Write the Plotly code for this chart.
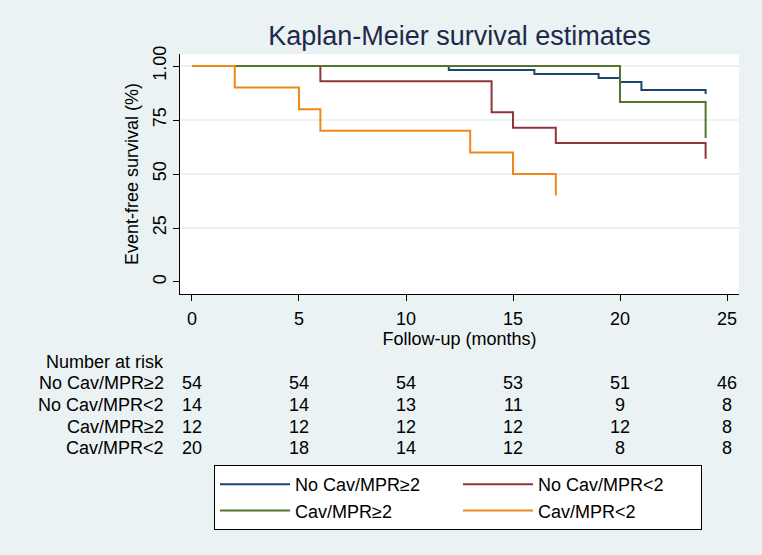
import plotly.graph_objects as go

# ---- data ----
group_names = ["No Cav/MPR\u22652", "No Cav/MPR<2", "Cav/MPR\u22652", "Cav/MPR<2"]

# step-function event times and survival after each step (start at t=0, S=1)
blue_t = [0, 12, 16, 19, 20, 21, 24]
blue_s = [1.0, 0.981, 0.963, 0.944, 0.926, 0.889, 0.870]

red_t = [0, 6, 14, 15, 17, 24]
red_s = [1.0, 0.929, 0.786, 0.714, 0.643, 0.571]

green_t = [0, 20, 24]
green_s = [1.0, 0.833, 0.667]

orange_t = [0, 2, 5, 6, 13, 15, 17]
orange_s = [1.0, 0.9, 0.8, 0.7, 0.6, 0.5, 0.4]

# end of follow-up per group
blue_end = 24
red_end = 24
green_end = 24
orange_end = 17

risk_times = [0, 5, 10, 15, 20, 25]
risk_blue = [54, 54, 54, 53, 51, 46]
risk_red = [14, 14, 13, 11, 9, 8]
risk_green = [12, 12, 12, 12, 12, 8]
risk_orange = [20, 18, 14, 12, 8, 8]

y_tickvals = [0, 0.25, 0.5, 0.75, 1.0]
y_ticktext = ["0", "25", "50", "75", "1.00"]
x_tickvals = [0, 5, 10, 15, 20, 25]

colors = ["#1a476f", "#90353b", "#55752f", "#f0871a"]

# ---- layout geometry ----
W, H = 762, 555
ML, MR, MT, MB = 180, 23, 54, 261
PW, PH = W - ML - MR, H - MT - MB


def px_to_paper_y(py):
    return (H - MB - py) / PH


def px_to_paper_x(px):
    return (px - ML) / PW


FONT = "Liberation Sans, Arial, sans-serif"
fig = go.Figure()

series = [
    (blue_t, blue_s, blue_end),
    (red_t, red_s, red_end),
    (green_t, green_s, green_end),
    (orange_t, orange_s, orange_end),
]
for (t, s, end), name, col in zip(series, group_names, colors):
    xs = list(t) + [end]
    ys = list(s) + [s[-1]]
    fig.add_trace(go.Scatter(
        x=xs, y=ys, mode="lines", name=name,
        line=dict(color=col, width=2, shape="hv"),
        hoverinfo="skip",
    ))

# gridlines (Stata style: no line at 0)
for v in y_tickvals[1:]:
    fig.add_shape(type="line", xref="paper", x0=0, x1=1, yref="y", y0=v, y1=v,
                  line=dict(color="#e4eef1", width=1.5), layer="below")

# risk table
ann = []
ann.append(dict(text="Number at risk", xref="paper", yref="paper",
                x=px_to_paper_x(166), y=px_to_paper_y(362),
                xanchor="right", yanchor="middle", showarrow=False,
                font=dict(size=18, color="black", family=FONT)))
row_px = [383, 405, 427, 448]
for name, counts, rp in zip(group_names,
                            [risk_blue, risk_red, risk_green, risk_orange], row_px):
    ann.append(dict(text=name, xref="paper", yref="paper",
                    x=px_to_paper_x(166), y=px_to_paper_y(rp),
                    xanchor="right", yanchor="middle", showarrow=False,
                    font=dict(size=18, color="black", family=FONT)))
    for tt, c in zip(risk_times, counts):
        ann.append(dict(text=str(c), xref="x", yref="paper",
                        x=tt, y=px_to_paper_y(rp),
                        xanchor="center", yanchor="middle", showarrow=False,
                        font=dict(size=18, color="black", family=FONT)))

fig.update_layout(
    width=W, height=H,
    margin=dict(l=ML, r=MR, t=MT, b=MB, pad=0, autoexpand=False),
    paper_bgcolor="#eaf2f3",
    plot_bgcolor="white",
    font=dict(family=FONT, size=18, color="black"),
    title=dict(text="Kaplan-Meier survival estimates", x=(ML + PW / 2) / W,
               xanchor="center", y=1 - 36 / H, yanchor="middle",
               font=dict(size=27, color="#1e2a4a", family=FONT)),
    annotations=ann,
    showlegend=True,
    legend=dict(
        orientation="h",
        x=px_to_paper_x(214), xanchor="left",
        y=px_to_paper_y(465), yanchor="top",
        bgcolor="white", bordercolor="black", borderwidth=1,
        font=dict(size=18, color="black", family=FONT),
        entrywidth=158, entrywidthmode="pixels",
        itemwidth=70,
        traceorder="normal",
    ),
)

fig.update_xaxes(
    range=[-0.56, 25.56], tickvals=x_tickvals,
    showgrid=False, zeroline=False,
    showline=True, linecolor="black", linewidth=1.2,
    ticks="outside", ticklen=6, tickcolor="black", tickwidth=1.2,
    ticklabelstandoff=2,
    tickfont=dict(size=18, color="black"),
    title=dict(text="Follow-up (months)", standoff=0,
               font=dict(size=18, color="black")),
)
fig.update_yaxes(
    range=[-0.0556, 1.0556], tickvals=y_tickvals, ticktext=y_ticktext,
    tickangle=-90,
    showgrid=False, zeroline=False,
    showline=True, linecolor="black", linewidth=1.2,
    ticks="outside", ticklen=6, tickcolor="black", tickwidth=1.2,
    tickfont=dict(size=18, color="black"),
    title=dict(text="Event-free survival (%)", standoff=6,
               font=dict(size=18, color="black")),
)

fig.write_html("out.html")
